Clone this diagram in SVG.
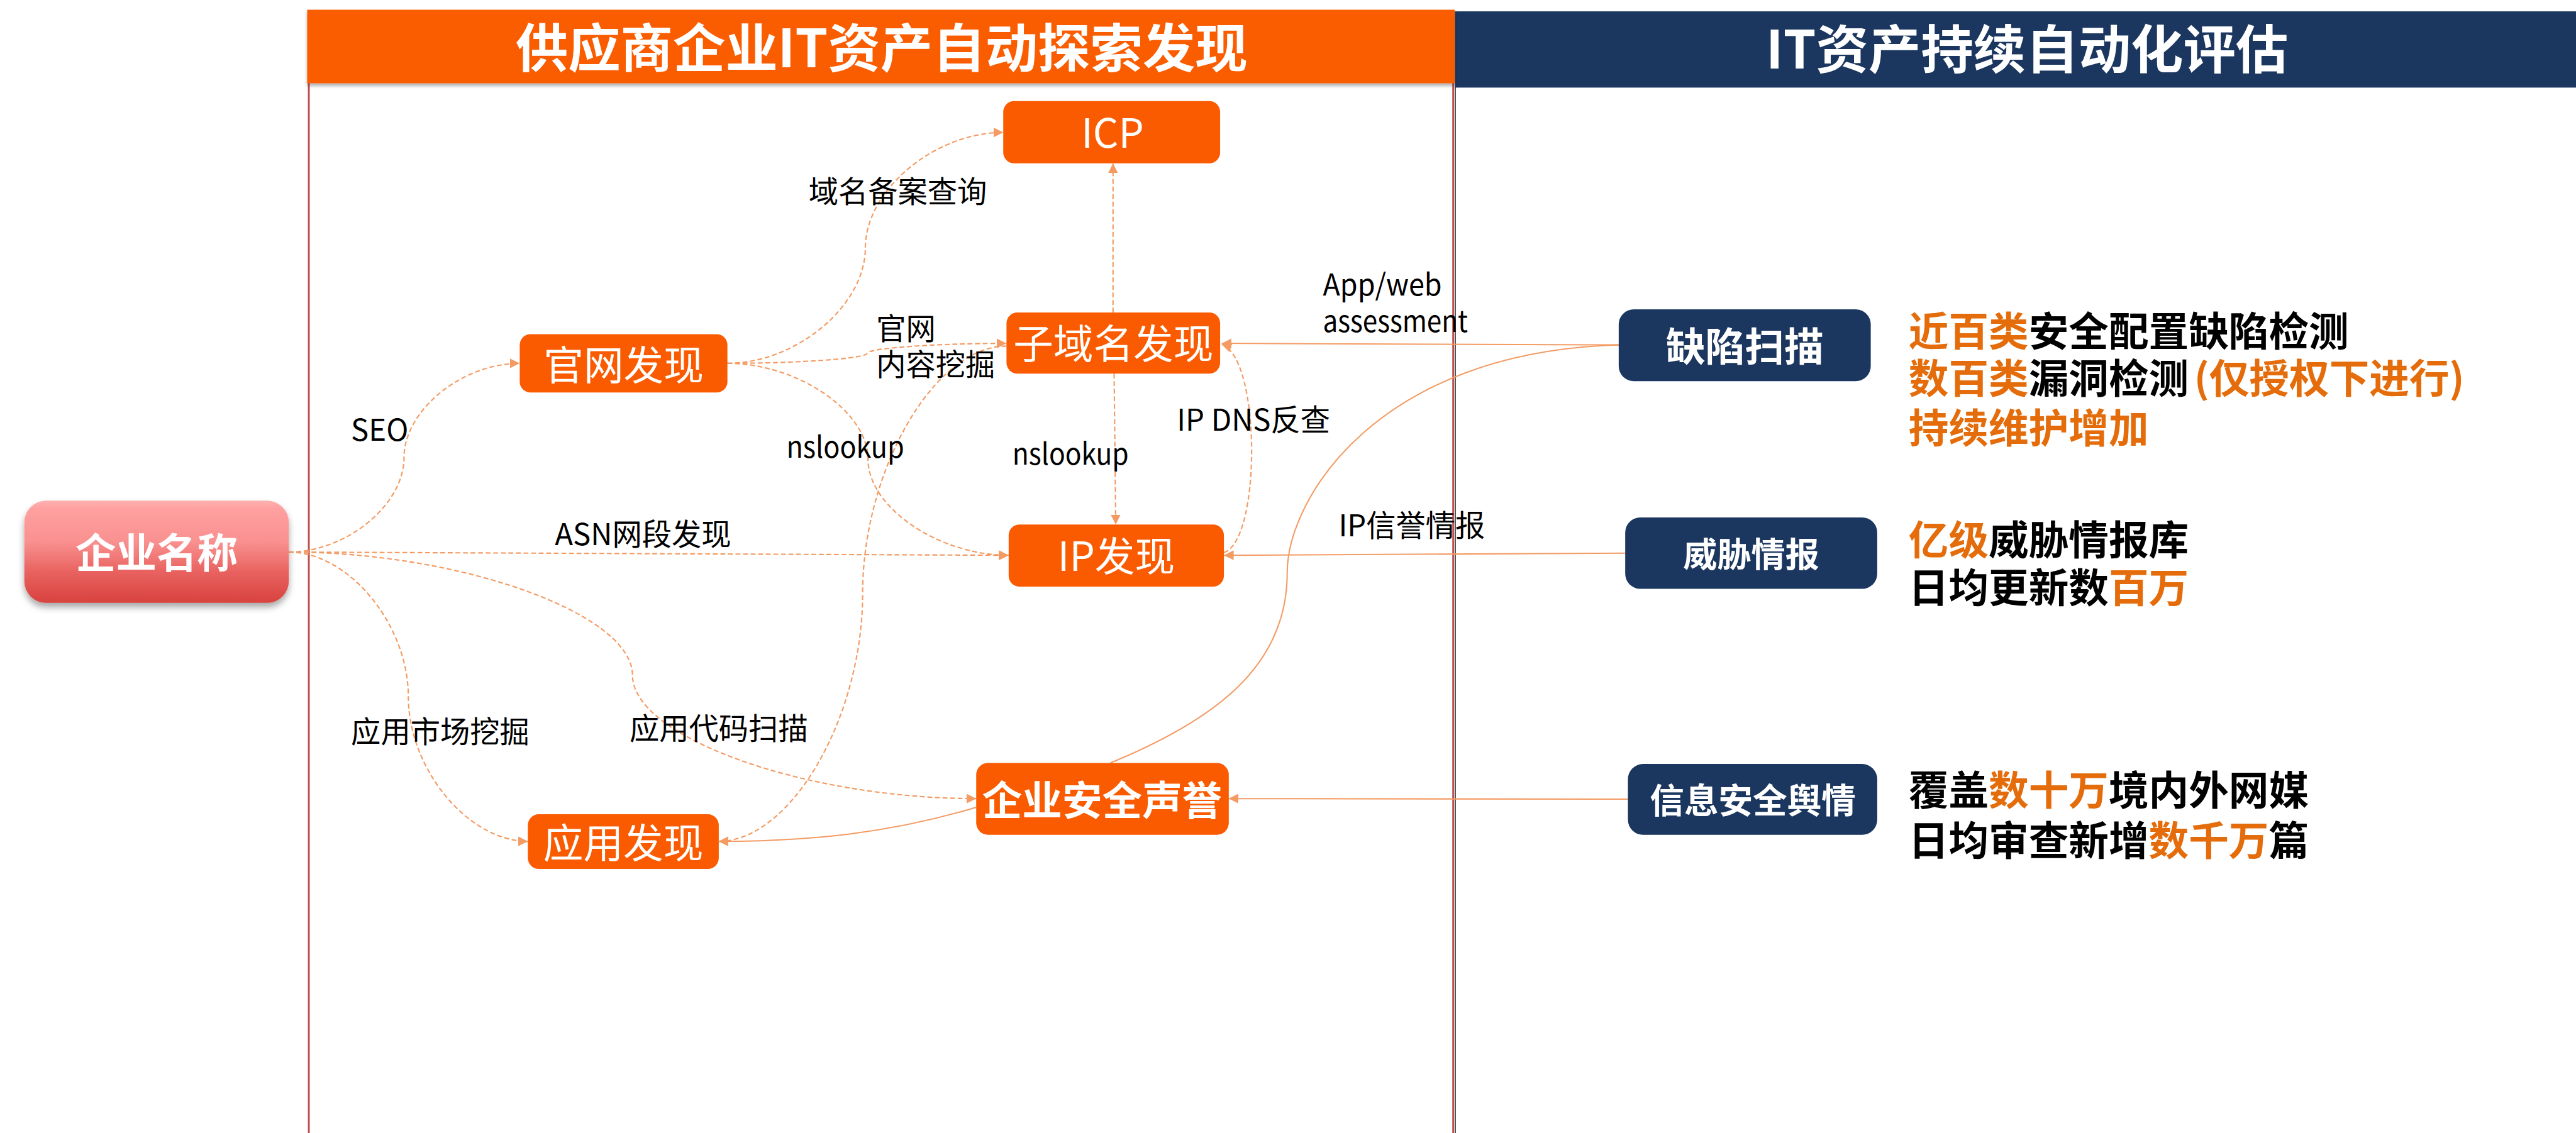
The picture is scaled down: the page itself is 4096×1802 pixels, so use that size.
<svg xmlns="http://www.w3.org/2000/svg" width="4096" height="1802" viewBox="0 0 4096 1802">
<defs>
<style>
text{font-family:"Noto Sans CJK SC","Noto Sans",sans-serif}
.hdr{fill:#fff;font-weight:700;font-size:97px;text-anchor:middle}
.on{fill:#FA5B00}
.nv{fill:#1B365F}
.ot{fill:#fff;font-size:74px;text-anchor:middle}
.nt{fill:#fff;font-weight:700;text-anchor:middle}
.lb{fill:#000;font-size:55px}
.rt{font-size:74px;font-weight:700;fill:#000}
.or{fill:#E46C0A}
.dash{fill:none;stroke:#F39B63;stroke-width:2.5;stroke-dasharray:9 5}
.sol{fill:none;stroke:#F39B63;stroke-width:2.4}
</style>
<marker id="ar" markerUnits="userSpaceOnUse" markerWidth="18" markerHeight="18" refX="16" refY="8" orient="auto" viewBox="0 0 16 16">
<path d="M0,0 L16,8 L0,16 z" fill="#F39B63"/>
</marker>
<linearGradient id="red" x1="0" y1="0" x2="0" y2="1">
<stop offset="0" stop-color="#FFB0B0"/>
<stop offset="0.08" stop-color="#FFA0A0"/>
<stop offset="0.4" stop-color="#F99190"/>
<stop offset="0.7" stop-color="#E8625F"/>
<stop offset="1" stop-color="#D8423E"/>
</linearGradient>
<filter id="sh" x="-10%" y="-20%" width="120%" height="150%">
<feDropShadow dx="0" dy="8" stdDeviation="6" flood-color="#000" flood-opacity="0.35"/>
</filter>
<filter id="hs" x="-5%" y="-20%" width="110%" height="150%">
<feDropShadow dx="0" dy="5" stdDeviation="3" flood-color="#000" flood-opacity="0.3"/>
</filter>
</defs>
<rect width="4096" height="1802" fill="#fff"/>
<g transform="scale(0.85996)">
<g id="panels">
<line x1="571" y1="150" x2="571" y2="2096" stroke="#C0504D" stroke-width="3.5"/>
<line x1="2687" y1="150" x2="2687" y2="2096" stroke="#C0504D" stroke-width="3.5"/>
<line x1="2691" y1="160" x2="2691" y2="2096" stroke="#4A4A4A" stroke-width="2"/>
<rect x="2690" y="21" width="2073" height="141" fill="#1B365F"/>
<rect x="568" y="18" width="2122" height="136" fill="#FA5B00" filter="url(#hs)"/>
<text class="hdr" x="1630" y="124">供应商企业IT资产自动探索发现</text>
<text class="hdr" x="3748" y="127">IT资产持续自动化评估</text>
</g>
<g id="connectors">
<path class="dash" marker-end="url(#ar)" d="M534,1021 C640,1021 747,934 747,846.5 C747,759 854,672 961,672"/>
<path class="dash" marker-end="url(#ar)" d="M534,1021 L1865,1027"/>
<path class="dash" marker-end="url(#ar)" d="M534,1021 C852,1021 1169.5,1135 1169.5,1249 C1169.5,1363 1487,1477 1805,1477"/>
<path class="dash" marker-end="url(#ar)" d="M534,1021 C644.5,1021 755,1155 755,1288.5 C755,1422 865.5,1556 976,1556"/>
<path class="dash" marker-end="url(#ar)" d="M1345,672 C1472.5,672 1600,565 1600,458.5 C1600,352 1727.5,245 1855,245"/>
<path class="dash" marker-end="url(#ar)" d="M1345,672 C1474,672 1603,663 1603,653.5 C1603,644 1732,635 1861,635"/>
<path class="dash" marker-end="url(#ar)" d="M1345,672 C1475,672 1605,761 1605,849.5 C1605,938 1735,1027 1865,1027"/>
<path class="dash" marker-end="url(#ar)" d="M1861,640 C1728,640 1595,869 1595,1098 C1595,1327 1462,1556 1329,1556"/>
<path class="dash" marker-end="url(#ar)" d="M2058,578 L2058,302"/>
<path class="dash" marker-end="url(#ar)" d="M2060,691 L2063,970"/>
<path class="dash" marker-end="url(#ar)" d="M2263,1022 C2332,1000 2332,662 2259,637"/>
<path class="sol" marker-end="url(#ar)" d="M2993,638 L2259,635"/>
<path class="sol" d="M2993,638 C2550,650 2380,920 2380,1060 C2380,1230 2250,1330 2053,1411"/>
<path class="sol" marker-end="url(#ar)" d="M3005,1023 L2263,1027"/>
<path class="sol" marker-end="url(#ar)" d="M3010,1478 L2272,1477"/>
<path class="sol" marker-end="url(#ar)" d="M1805,1493 C1650,1540 1500,1556 1329,1556"/>
<g id="labels">
<text class="lb" x="649" y="815">SEO</text>
<text class="lb" x="649" y="1373">应用市场挖掘</text>
<text class="lb" x="1495" y="375">域名备案查询</text>
<text class="lb" x="1620" y="628">官网</text>
<text class="lb" x="1620" y="694">内容挖掘</text>
<text class="lb" x="1454" y="847" textLength="218" lengthAdjust="spacingAndGlyphs">nslookup</text>
<text class="lb" x="1026" y="1008">ASN网段发现</text>
<text class="lb" x="1164" y="1367">应用代码扫描</text>
<text class="lb" x="1872" y="859" textLength="215" lengthAdjust="spacingAndGlyphs">nslookup</text>
<text class="lb" x="2176" y="796">IP DNS反查</text>
<text class="lb" x="2446" y="546" textLength="220" lengthAdjust="spacingAndGlyphs">App/web</text>
<text class="lb" x="2446" y="614" textLength="268" lengthAdjust="spacingAndGlyphs">assessment</text>
<text class="lb" x="2475" y="992">IP信誉情报</text>
</g>
</g>
<g id="n-company">
<rect x="45" y="926" width="489" height="189" rx="40" fill="url(#red)" filter="url(#sh)"/>
<text class="nt" x="289.5" y="1050" font-size="75">企业名称</text>
</g>
<g id="n-icp">
<rect class="on" x="1855" y="187" width="401" height="115" rx="20"/>
<text class="ot" x="2057" y="273" font-size="84">ICP</text>
</g>
<g id="n-subdomain">
<rect class="on" x="1861" y="578" width="395" height="113" rx="20"/>
<text class="ot" x="2058.5" y="663" font-size="75">子域名发现</text>
</g>
<g id="n-website">
<rect class="on" x="961" y="618" width="384" height="108" rx="20"/>
<text class="ot" x="1153" y="702">官网发现</text>
</g>
<g id="n-ip">
<rect class="on" x="1865" y="970" width="398" height="115" rx="20"/>
<text class="ot" x="2064" y="1056">IP发现</text>
</g>
<g id="n-reputation">
<rect class="on" x="1805" y="1411" width="467" height="133" rx="22"/>
<text class="ot" x="2038" y="1507" font-weight="700">企业安全声誉</text>
</g>
<g id="n-app">
<rect class="on" x="976" y="1506" width="353" height="101" rx="20"/>
<text class="ot" x="1152.5" y="1586">应用发现</text>
</g>
<g id="n-scan">
<rect class="nv" x="2993" y="572" width="466" height="133" rx="28"/>
<text class="nt" x="3226" y="668" font-size="73">缺陷扫描</text>
</g>
<g id="n-threat">
<rect class="nv" x="3005" y="957" width="466" height="132" rx="28"/>
<text class="nt" x="3238" y="1049" font-size="63">威胁情报</text>
</g>
<g id="n-opinion">
<rect class="nv" x="3010" y="1413" width="461" height="131" rx="28"/>
<text class="nt" x="3241" y="1504" font-size="63.5">信息安全舆情</text>
</g>
<g id="descriptions">
<text class="rt" x="3529" y="639"><tspan class="or">近百类</tspan>安全配置缺陷检测</text>
<text class="rt" x="3529" y="727"><tspan class="or">数百类</tspan>漏洞检测<tspan class="or" dx="10">(仅授权下进行)</tspan></text>
<text class="rt or" x="3529" y="819">持续维护增加</text>
<text class="rt" x="3529" y="1026"><tspan class="or">亿级</tspan>威胁情报库</text>
<text class="rt" x="3529" y="1114">日均更新数<tspan class="or">百万</tspan></text>
<text class="rt" x="3529" y="1489">覆盖<tspan class="or">数十万</tspan>境内外网媒</text>
<text class="rt" x="3529" y="1581">日均审查新增<tspan class="or">数千万</tspan>篇</text>
</g>
</g>
</svg>
